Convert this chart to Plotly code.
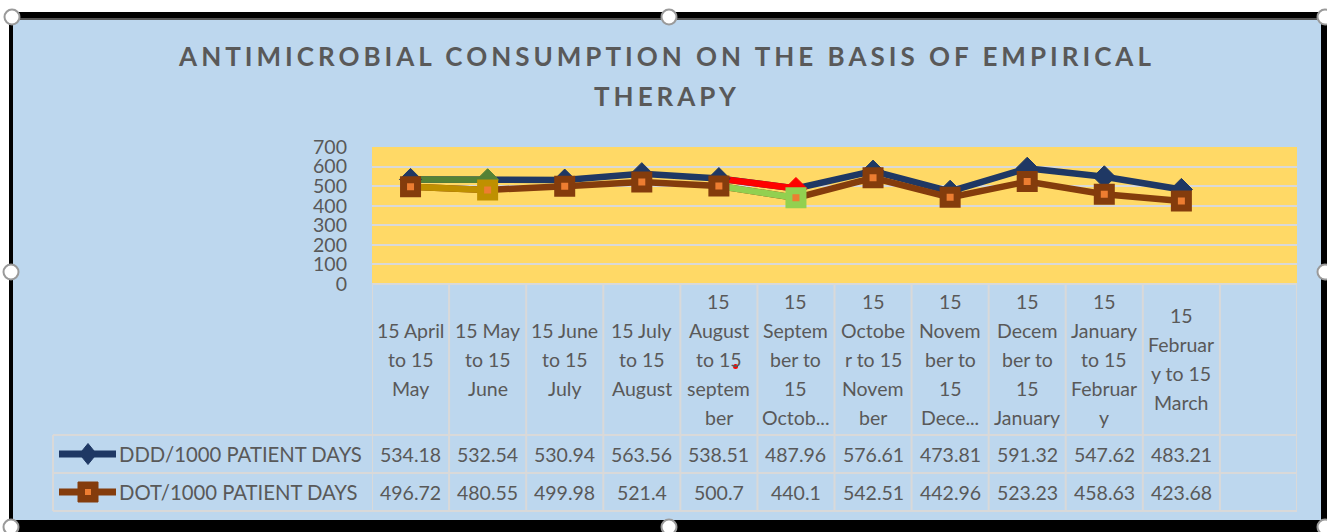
import plotly.graph_objects as go

# ---------------- data ----------------
periods = [
    "15 April to 15 May", "15 May to 15 June", "15 June to 15 July",
    "15 July to 15 August", "15 August to 15 september",
    "15 September to 15 October", "15 October to 15 November",
    "15 November to 15 December", "15 December to 15 January",
    "15 January to 15 February", "15 February to 15 March",
]
# labels as wrapped/truncated in the data table of the original chart
table_labels = [
    "15 April<br>to 15<br>May",
    "15 May<br>to 15<br>June",
    "15 June<br>to 15<br>July",
    "15 July<br>to 15<br>August",
    "15<br>August<br>to 15<br>septem<br>ber",
    "15<br>Septem<br>ber to<br>15<br>Octob...",
    "15<br>Octobe<br>r to 15<br>Novem<br>ber",
    "15<br>Novem<br>ber to<br>15<br>Dece...",
    "15<br>Decem<br>ber to<br>15<br>January",
    "15<br>January<br>to 15<br>Februar<br>y",
    "15<br>Februar<br>y to 15<br>March",
]
ddd_name = "DDD/1000 PATIENT DAYS"
dot_name = "DOT/1000 PATIENT DAYS"
ddd = [534.18, 532.54, 530.94, 563.56, 538.51, 487.96, 576.61, 473.81, 591.32, 547.62, 483.21]
dot = [496.72, 480.55, 499.98, 521.4, 500.7, 440.1, 542.51, 442.96, 523.23, 458.63, 423.68]
y_ticks = [0, 100, 200, 300, 400, 500, 600, 700]

title_line1 = "ANTIMICROBIAL CONSUMPTION ON THE BASIS OF EMPIRICAL"
title_line2 = "THERAPY"

# ---------------- styles ----------------
W, H = 1327, 532
NAVY = "#1F3864"
BROWN = "#843C0C"
ORANGE = "#ED7D31"
BLUE_BG = "#BDD7EE"
YELLOW = "#FFD966"
GRID = "#D9D9D9"
TXT = "#595959"
FONT = "Lato"
FS = 19.5

# individually formatted points (segment ending at that point + its marker)
ddd_special = {1: "#548235", 5: "#FF0000"}
dot_special = {1: "#BF9000", 5: "#92D050"}


def px(x):
    return x / W


def py(y):
    return 1 - y / H


fig = go.Figure()

# DDD main line
fig.add_trace(go.Scatter(x=periods, y=ddd, mode="lines", name=ddd_name,
                         line=dict(color=NAVY, width=6.5), hoverinfo="skip",
                         showlegend=False))
for i, col in ddd_special.items():
    fig.add_trace(go.Scatter(x=periods[i - 1:i + 1], y=ddd[i - 1:i + 1], mode="lines",
                             line=dict(color=col, width=6.5), hoverinfo="skip",
                             showlegend=False))
ddd_cols = [ddd_special.get(i, NAVY) for i in range(len(ddd))]
fig.add_trace(go.Scatter(x=periods, y=ddd, mode="markers", name=ddd_name,
                         marker=dict(symbol="diamond", size=17, color=ddd_cols,
                                     line=dict(color=ddd_cols, width=1)),
                         showlegend=False))

# DOT main line
fig.add_trace(go.Scatter(x=periods, y=dot, mode="lines", name=dot_name,
                         line=dict(color=BROWN, width=6.5), hoverinfo="skip",
                         showlegend=False))
for i, col in dot_special.items():
    fig.add_trace(go.Scatter(x=periods[i - 1:i + 1], y=dot[i - 1:i + 1], mode="lines",
                             line=dict(color=col, width=6.5), hoverinfo="skip",
                             showlegend=False))
dot_cols = [dot_special.get(i, BROWN) for i in range(len(dot))]
fig.add_trace(go.Scatter(x=periods, y=dot, mode="markers", name=dot_name,
                         marker=dict(symbol="square", size=14, color=ORANGE,
                                     line=dict(color=dot_cols, width=7)),
                         showlegend=False))

shapes = []
# frame + chart area
shapes.append(dict(type="rect", xref="paper", yref="paper", x0=px(9), x1=px(1340),
                   y0=py(545), y1=py(12), fillcolor="#000000", line=dict(width=0),
                   layer="below"))
shapes.append(dict(type="rect", xref="paper", yref="paper", x0=px(9), x1=px(1340),
                   y0=py(20), y1=py(18), fillcolor="#555555", line=dict(width=0),
                   layer="below"))
shapes.append(dict(type="rect", xref="paper", yref="paper", x0=px(13), x1=px(1321),
                   y0=py(520), y1=py(20), fillcolor=BLUE_BG, line=dict(width=0),
                   layer="below"))
shapes.append(dict(type="rect", xref="x domain", yref="y domain", x0=0, x1=1,
                   y0=0, y1=1, fillcolor=YELLOW, line=dict(width=0), layer="below"))

# data table grid
n_cols = len(periods) + 1
for i in range(n_cols + 1):
    shapes.append(dict(type="line", xref="x", yref="paper", x0=i - 0.5, x1=i - 0.5,
                       y0=py(511), y1=py(284), line=dict(color=GRID, width=2)))
for yy in (284, 435, 473, 511):
    x0 = px(372) if yy == 284 else px(53)
    shapes.append(dict(type="line", xref="paper", yref="paper", x0=x0, x1=px(1297),
                       y0=py(yy), y1=py(yy), line=dict(color=GRID, width=2)))
shapes.append(dict(type="line", xref="paper", yref="paper", x0=px(53), x1=px(53),
                   y0=py(511), y1=py(435), line=dict(color=GRID, width=2)))

# legend keys in the table
ky1, ky2 = 454, 492
shapes.append(dict(type="line", xref="paper", yref="paper", x0=px(59), x1=px(116),
                   y0=py(ky1), y1=py(ky1), line=dict(color=NAVY, width=7)))
cx = 88
shapes.append(dict(type="path", xref="paper", yref="paper",
                   path=f"M {px(cx)},{py(ky1 - 10.5)} L {px(cx + 8.5)},{py(ky1)} "
                        f"L {px(cx)},{py(ky1 + 10.5)} L {px(cx - 8.5)},{py(ky1)} Z",
                   fillcolor=NAVY, line=dict(color=NAVY, width=1)))
shapes.append(dict(type="line", xref="paper", yref="paper", x0=px(59), x1=px(116),
                   y0=py(ky2), y1=py(ky2), line=dict(color=BROWN, width=7)))
shapes.append(dict(type="rect", xref="paper", yref="paper", x0=px(cx - 10), x1=px(cx + 10),
                   y0=py(ky2 + 10), y1=py(ky2 - 10), fillcolor=BROWN,
                   line=dict(color=BROWN, width=1)))
shapes.append(dict(type="rect", xref="paper", yref="paper", x0=px(cx - 3), x1=px(cx + 3),
                   y0=py(ky2 + 3), y1=py(ky2 - 3), fillcolor=ORANGE,
                   line=dict(width=0)))

# selection handles of the chart object
for hx, hy in [(12, 17), (669, 17), (1325, 17), (11, 272), (1325, 272),
               (11, 527), (669, 527), (1325, 527)]:
    r = 7.5
    shapes.append(dict(type="circle", xref="paper", yref="paper",
                       x0=px(hx - r), x1=px(hx + r), y0=py(hy + r), y1=py(hy - r),
                       fillcolor="#FFFFFF", line=dict(color="#9A9A9A", width=2)))
# small red speck inside the table
shapes.append(dict(type="circle", xref="paper", yref="paper",
                   x0=px(733), x1=px(738), y0=py(369), y1=py(364),
                   fillcolor="#FF0000", line=dict(width=0)))

annotations = []
font = dict(family=FONT, size=FS, color=TXT)
# category labels (each wrapped line placed separately)
for i, lab in enumerate(table_labels):
    lines = lab.split("<br>")
    n = len(lines)
    for j, line in enumerate(lines):
        annotations.append(dict(x=periods[i], xref="x", y=py(359), yref="paper",
                                yshift=-(j - (n - 1) / 2) * 29, text=line,
                                showarrow=False, font=font, xanchor="center",
                                yanchor="middle"))
# values rows
for vals, yc in ((ddd, ky1), (dot, ky2)):
    for i, v in enumerate(vals):
        annotations.append(dict(x=periods[i], xref="x", y=py(yc), yref="paper",
                                text=f"{v:g}", showarrow=False, font=font,
                                xanchor="center", yanchor="middle"))
# series names
for name, yc in ((ddd_name, ky1), (dot_name, ky2)):
    annotations.append(dict(x=px(117), xref="paper", y=py(yc), yref="paper",
                            text=name, showarrow=False,
                            font=dict(family=FONT, size=20.3, color=TXT),
                            xanchor="left", yanchor="middle"))
# second title line
title_font = dict(family=FONT, size=26, color=TXT, weight="bold")
annotations.append(dict(x=px(667), xref="paper", y=py(96), yref="paper",
                        text=f"<span style='letter-spacing:4px'>{title_line2}</span>",
                        showarrow=False, font=title_font, xanchor="center",
                        yanchor="middle"))

fig.update_layout(
    width=W, height=H,
    margin=dict(l=0, r=0, t=0, b=0, autoexpand=False),
    paper_bgcolor="#FFFFFF",
    plot_bgcolor=YELLOW,
    showlegend=False,
    title=dict(text=f"<span style='letter-spacing:4px'>{title_line1}</span>",
               x=px(667), xanchor="center", xref="paper",
               y=py(57), yanchor="middle", yref="container", font=title_font),
    xaxis=dict(domain=[px(372), px(1297)], type="category", categoryorder="array",
               categoryarray=periods, range=[-0.5, len(periods) + 0.5],
               showticklabels=False, showgrid=False, zeroline=False, showline=False,
               fixedrange=True, automargin=False),
    yaxis=dict(domain=[py(284), py(147)], range=[0, 700], tickvals=y_ticks,
               showgrid=True, gridcolor=GRID, gridwidth=2, zeroline=False,
               showline=False, ticklabelstandoff=24, automargin=False,
               tickfont=dict(family=FONT, size=FS, color=TXT), fixedrange=True),
    shapes=shapes,
    annotations=annotations,
)

fig.write_html("out.html", config={"displayModeBar": False},
               post_script="document.body.style.margin='0';document.body.style.overflow='hidden';")
